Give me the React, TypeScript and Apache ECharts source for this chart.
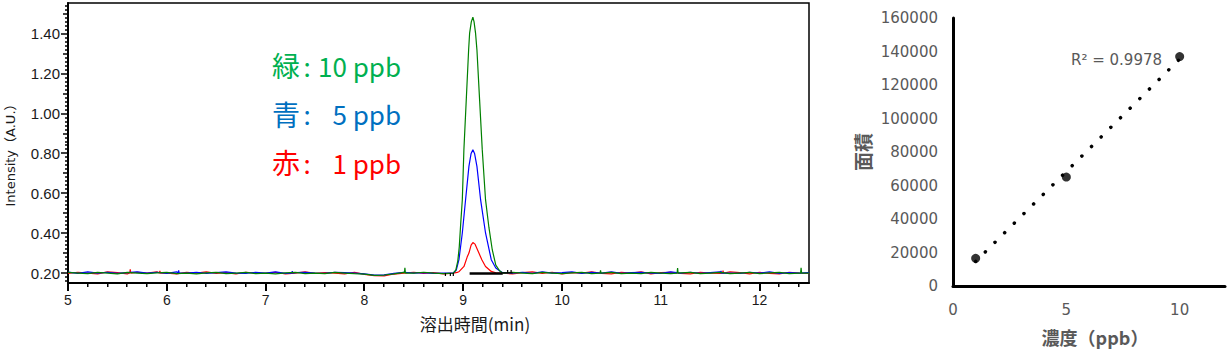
import { useEffect, useRef } from 'react';
import * as echarts from 'echarts';

// ---------- Left chart (chromatogram) ----------
const xTicks = [5, 6, 7, 8, 9, 10, 11, 12];
const yTicks = [0.2, 0.4, 0.6, 0.8, 1.0, 1.2, 1.4];

const baseTimesPre = [
  5.0, 5.1, 5.2, 5.3, 5.4, 5.5, 5.6, 5.7, 5.8, 5.9,
  6.0, 6.1, 6.2, 6.3, 6.4, 6.5, 6.6, 6.7, 6.8, 6.9,
  7.0, 7.1, 7.2, 7.3, 7.4, 7.5, 7.6, 7.7, 7.8, 7.9,
  8.0, 8.1, 8.2, 8.3, 8.4, 8.5, 8.6, 8.7, 8.8,
];
const baseTimesPost = [
  9.5, 9.6, 9.7, 9.8, 9.9, 10.0, 10.1, 10.2, 10.3, 10.4,
  10.5, 10.6, 10.7, 10.8, 10.9, 11.0, 11.1, 11.2, 11.3, 11.4,
  11.5, 11.6, 11.7, 11.8, 11.9, 12.0, 12.1, 12.2, 12.3, 12.4, 12.5,
];

const greenPre = [
  0.203, 0.200, 0.197, 0.203, 0.200, 0.196, 0.203, 0.200, 0.197, 0.201,
  0.203, 0.197, 0.200, 0.196, 0.201, 0.203, 0.197, 0.200, 0.203, 0.197,
  0.200, 0.196, 0.201, 0.203, 0.197, 0.200, 0.197, 0.203, 0.200, 0.197,
  0.195, 0.188, 0.190, 0.196, 0.203, 0.200, 0.204, 0.200, 0.197,
];
const bluePre = [
  0.205, 0.198, 0.206, 0.200, 0.204, 0.198, 0.202, 0.206, 0.200, 0.204,
  0.198, 0.206, 0.200, 0.204, 0.198, 0.202, 0.206, 0.200, 0.198, 0.204,
  0.200, 0.206, 0.198, 0.202, 0.204, 0.200, 0.198, 0.204, 0.202, 0.200,
  0.196, 0.190, 0.191, 0.198, 0.204, 0.200, 0.202, 0.198, 0.200,
];
const redPre = [
  0.198, 0.204, 0.200, 0.196, 0.206, 0.202, 0.196, 0.204, 0.200, 0.206,
  0.200, 0.196, 0.204, 0.200, 0.206, 0.198, 0.202, 0.196, 0.204, 0.200,
  0.198, 0.204, 0.196, 0.200, 0.206, 0.198, 0.202, 0.200, 0.196, 0.204,
  0.193, 0.187, 0.186, 0.195, 0.200, 0.204, 0.198, 0.202, 0.196,
];
const greenPost = [
  0.203, 0.200, 0.197, 0.203, 0.200, 0.197, 0.201, 0.203, 0.197, 0.200,
  0.203, 0.197, 0.200, 0.197, 0.203, 0.200, 0.197, 0.201, 0.203, 0.197,
  0.200, 0.203, 0.197, 0.200, 0.203, 0.197, 0.201, 0.203, 0.197, 0.200, 0.200,
];
const bluePost = [
  0.200, 0.204, 0.198, 0.206, 0.200, 0.202, 0.206, 0.198, 0.204, 0.200,
  0.206, 0.198, 0.202, 0.204, 0.200, 0.198, 0.206, 0.200, 0.204, 0.198,
  0.202, 0.206, 0.200, 0.198, 0.204, 0.200, 0.206, 0.198, 0.202, 0.200, 0.202,
];
const redPost = [
  0.196, 0.202, 0.206, 0.198, 0.204, 0.196, 0.202, 0.200, 0.206, 0.198,
  0.196, 0.204, 0.200, 0.206, 0.196, 0.202, 0.204, 0.198, 0.196, 0.204,
  0.200, 0.198, 0.206, 0.202, 0.196, 0.204, 0.198, 0.196, 0.204, 0.200, 0.198,
];

const greenSpikes = [
  [8.405, 0.2], [8.41, 0.226], [8.415, 0.2],
  [10.385, 0.2], [10.39, 0.214], [10.395, 0.2],
  [11.165, 0.2], [11.17, 0.225], [11.175, 0.2],
  [12.415, 0.2], [12.42, 0.226], [12.425, 0.2],
];
const blueSpikes = [
  [6.115, 0.2], [6.12, 0.214], [6.125, 0.2],
  [7.265, 0.2], [7.27, 0.209], [7.275, 0.2],
  [11.605, 0.2], [11.61, 0.211], [11.615, 0.2],
];
const redSpikes = [
  [5.625, 0.2], [5.63, 0.218], [5.635, 0.2],
  [5.925, 0.2], [5.93, 0.211], [5.935, 0.2],
  [11.625, 0.2], [11.63, 0.212], [11.635, 0.2],
];

const greenPeak = [
  [8.9, 0.2], [8.925, 0.215], [8.945, 0.26], [8.96, 0.33], [8.975, 0.45],
  [8.991, 0.568], [9.007, 0.818], [9.031, 1.069], [9.055, 1.32], [9.065, 1.404],
  [9.082, 1.46], [9.098, 1.484], [9.11, 1.46], [9.125, 1.404], [9.139, 1.32],
  [9.166, 1.069], [9.193, 0.818], [9.226, 0.568], [9.26, 0.43], [9.294, 0.317],
  [9.33, 0.24], [9.37, 0.21], [9.4, 0.2],
];
const bluePeak = [
  [8.9, 0.2], [8.93, 0.215], [8.957, 0.267], [8.991, 0.401], [9.024, 0.568],
  [9.058, 0.735], [9.08, 0.8], [9.098, 0.818], [9.115, 0.8], [9.139, 0.735],
  [9.176, 0.568], [9.226, 0.401], [9.284, 0.267], [9.33, 0.225], [9.368, 0.212],
  [9.4, 0.202],
];
const redPeak = [
  [8.9, 0.2], [8.94, 0.203], [8.96, 0.208], [9.008, 0.233], [9.04, 0.28],
  [9.058, 0.3], [9.08, 0.34], [9.098, 0.353], [9.12, 0.345], [9.159, 0.3],
  [9.19, 0.265], [9.226, 0.233], [9.284, 0.208], [9.33, 0.201], [9.4, 0.199],
];

const integrationMarks = [
  [[9.065, 0.198], [9.4, 0.198]],
  [[9.4, 0.201], [9.5, 0.201]],
  [[8.82, 0.2], [8.82, 0.185]],
  [[8.87, 0.2], [8.87, 0.185]],
  [[8.9, 0.2], [8.9, 0.185]],
  [[9.45, 0.2], [9.45, 0.215]],
  [[9.485, 0.2], [9.485, 0.215]],
];

const legendLines = [
  { name: '緑', amount: '10 ppb', color: '#00b050' },
  { name: '青', amount: '5 ppb', color: '#0070c0' },
  { name: '赤', amount: '1 ppb', color: '#ff0000' },
];

// ---------- Right chart (calibration) ----------
const concentrations = [1, 5, 10];
const areas = [16500, 65000, 137000];
const rightXLabels = [0, 5, 10];
const r2Label = 'R² = 0.9978';

const X_MIN = 5;
const X_MAX = 12.5;
const Y_MIN = 0.15;
const Y_MAX = 1.555;
const LEFT_GRID = { left: 68, right: 419, top: 3, bottom: 66 };
const CHART_W = 1228;
const CHART_H = 349;

function buildSeries(pre: number[], post: number[], spikes: number[][], peak: number[][]) {
  const pts: number[][] = [];
  baseTimesPre.forEach((t, i) => pts.push([t, pre[i]]));
  baseTimesPost.forEach((t, i) => pts.push([t, post[i]]));
  spikes.forEach((p) => pts.push(p));
  peak.forEach((p) => pts.push(p));
  return pts.sort((a, b) => a[0] - b[0]);
}

function linearFit(xs: number[], ys: number[]) {
  const n = xs.length;
  const mx = xs.reduce((a, b) => a + b, 0) / n;
  const my = ys.reduce((a, b) => a + b, 0) / n;
  let sxy = 0;
  let sxx = 0;
  for (let i = 0; i < n; i++) {
    sxy += (xs[i] - mx) * (ys[i] - my);
    sxx += (xs[i] - mx) * (xs[i] - mx);
  }
  const slope = sxy / sxx;
  return { slope, intercept: my - slope * mx };
}

export default function App() {
  const ref = useRef<HTMLDivElement>(null);

  useEffect(() => {
    if (!ref.current) return;
    const chart = echarts.init(ref.current, null, { renderer: 'svg' });

    const fit = linearFit(concentrations, areas);
    const cMin = Math.min(...concentrations);
    const cMax = Math.max(...concentrations);
    const trend = [
      [cMin, fit.intercept + fit.slope * cMin],
      [cMax, fit.intercept + fit.slope * cMax],
    ];

    const leftLabelFont = { fontFamily: 'Liberation Sans', color: '#1a1a1a' };
    const gray = '#595959';

    const chromLine = (name: string, color: string, data: number[][], z: number) => ({
      name,
      type: 'line',
      xAxisIndex: 0,
      yAxisIndex: 0,
      data,
      showSymbol: false,
      symbol: 'none',
      lineStyle: { color, width: 1.2 },
      z,
    });

    const option: any = {
      animation: false,
      backgroundColor: '#ffffff',
      grid: [
        { ...LEFT_GRID, show: true, borderColor: '#000', borderWidth: 1.5, backgroundColor: 'transparent' },
        { left: 953, right: 3, top: 18, bottom: 63, show: false },
      ],
      xAxis: [
        {
          type: 'value', gridIndex: 0, min: X_MIN, max: X_MAX,
          axisLine: { show: true, onZero: false, lineStyle: { color: '#000', width: 2 } },
          axisTick: { show: false },
          axisLabel: { customValues: xTicks, margin: 10, fontSize: 14, ...leftLabelFont },
          splitLine: { show: false },
        },
        {
          type: 'value', gridIndex: 1, min: 0, max: 12,
          axisLine: { show: true, onZero: false, lineStyle: { color: '#000', width: 3 } },
          axisTick: { show: false },
          axisLabel: { customValues: rightXLabels, margin: 16, fontSize: 15, fontFamily: 'DejaVu Sans', color: gray },
          splitLine: { show: false },
        },
      ],
      yAxis: [
        {
          type: 'value', gridIndex: 0, min: Y_MIN, max: Y_MAX,
          axisLine: { show: true, onZero: false, lineStyle: { color: '#000', width: 2 } },
          axisTick: { show: false },
          axisLabel: { customValues: yTicks, margin: 8, fontSize: 15, ...leftLabelFont, formatter: (v: number) => v.toFixed(2) },
          splitLine: { show: false },
        },
        {
          type: 'value', gridIndex: 1, min: 0, max: 160000, interval: 20000,
          axisLine: { show: true, onZero: false, lineStyle: { color: '#000', width: 3 } },
          axisTick: { show: false },
          axisLabel: { margin: 15, fontSize: 15, fontFamily: 'DejaVu Sans', color: gray, formatter: (v: number) => String(v) },
          splitLine: { show: false },
        },
      ],
      series: [
        chromLine('1 ppb', '#ff0000', buildSeries(redPre, redPost, redSpikes, redPeak), 2),
        chromLine('5 ppb', '#0000ff', buildSeries(bluePre, bluePost, blueSpikes, bluePeak), 3),
        chromLine('10 ppb', '#008000', buildSeries(greenPre, greenPost, greenSpikes, greenPeak), 4),
        ...integrationMarks.map((seg, i) => ({
          name: 'mark' + i,
          type: 'line',
          xAxisIndex: 0,
          yAxisIndex: 0,
          data: seg,
          showSymbol: false,
          symbol: 'none',
          lineStyle: { color: '#000', width: i === 0 ? 2.5 : 1.2 },
          z: 5,
        })),
        {
          name: 'trend',
          type: 'line',
          xAxisIndex: 1,
          yAxisIndex: 1,
          data: trend,
          showSymbol: false,
          symbol: 'none',
          lineStyle: { color: '#000', width: 3.5, type: [0.1, 13.5], cap: 'round' },
          z: 3,
        },
        {
          name: 'area',
          type: 'scatter',
          xAxisIndex: 1,
          yAxisIndex: 1,
          data: concentrations.map((c, i) => [c, areas[i]]),
          symbol: 'circle',
          symbolSize: 9,
          itemStyle: { color: '#000' },
          z: 4,
        },
      ],
    };

    chart.setOption(option);

    // ----- axis tick marks: pixel positions from the axes' scales (fallback: linear grid mapping) -----
    const gx0 = LEFT_GRID.left;
    const gx1 = CHART_W - LEFT_GRID.right;
    const gy0 = LEFT_GRID.top;
    const gy1 = CHART_H - LEFT_GRID.bottom;
    const toPx = (p: number[]): number[] => {
      let r: any = null;
      try {
        r = chart.convertToPixel({ gridIndex: 0 } as any, p);
      } catch (e) {
        r = null;
      }
      if (r && isFinite(r[0]) && isFinite(r[1])) return r as number[];
      return [
        gx0 + ((p[0] - X_MIN) / (X_MAX - X_MIN)) * (gx1 - gx0),
        gy1 - ((p[1] - Y_MIN) / (Y_MAX - Y_MIN)) * (gy1 - gy0),
      ];
    };

    const graphics: any[] = [];
    for (let k = 25; k <= 62; k++) {
      const v = Math.round(k * 2) / 10;
      const major = k % 5 === 0;
      const len = major ? 8 : 4;
      const p = toPx([v, Y_MIN]);
      const x = Math.round(p[0]);
      graphics.push({
        type: 'rect',
        silent: true,
        z: 100,
        shape: { x: x - 1, y: gy1, width: major ? 2 : 1.5, height: len },
        style: { fill: '#000' },
      });
    }
    for (let k = 8; k <= 77; k++) {
      const v = Math.round(k * 2) / 100;
      const len = k % 10 === 0 ? 7 : k % 5 === 0 ? 5 : 3;
      const p = toPx([X_MIN, v]);
      const y = Math.round(p[1]);
      graphics.push({
        type: 'rect',
        silent: true,
        z: 100,
        shape: { x: gx0 - len, y: y - 0.75, width: len, height: 1.5 },
        style: { fill: '#000' },
      });
    }

    legendLines.forEach((l, i) => {
      const y = 65 + i * 48.5;
      graphics.push({
        type: 'text',
        x: 272,
        y,
        style: { text: l.name, fill: l.color, font: '28px "Noto Sans CJK JP"', textAlign: 'left', textVerticalAlign: 'middle' },
      });
      graphics.push({
        type: 'text',
        x: 307,
        y,
        style: { text: ':', fill: l.color, font: '26px "Noto Sans CJK JP"', textAlign: 'center', textVerticalAlign: 'middle' },
      });
      graphics.push({
        type: 'text',
        x: 401,
        y,
        style: { text: l.amount, fill: l.color, font: '26px "Noto Sans CJK JP"', textAlign: 'right', textVerticalAlign: 'middle' },
      });
    });
    graphics.push({
      type: 'text',
      x: 10,
      y: 152,
      rotation: Math.PI / 2,
      style: { text: 'Intensity（A.U.）', fill: '#1a1a1a', font: '13px "DejaVu Sans", "Noto Sans CJK JP"', textAlign: 'center', textVerticalAlign: 'middle' },
    });
    graphics.push({
      type: 'text',
      x: 475,
      y: 323,
      style: { text: '溶出時間(min)', fill: '#1a1a1a', font: '17px "Noto Sans CJK JP"', textAlign: 'center', textVerticalAlign: 'middle' },
    });
    graphics.push({
      type: 'text',
      x: 862,
      y: 152,
      rotation: Math.PI / 2,
      style: { text: '面積', fill: gray, font: 'bold 19px "Noto Sans CJK JP"', textAlign: 'center', textVerticalAlign: 'middle' },
    });
    graphics.push({
      type: 'text',
      x: 1095,
      y: 337,
      style: { text: '濃度（ppb）', fill: gray, font: 'bold 18px "Noto Sans CJK JP"', textAlign: 'center', textVerticalAlign: 'middle' },
    });
    graphics.push({
      type: 'text',
      x: 1071,
      y: 60,
      style: { text: r2Label, fill: gray, font: '15px "DejaVu Sans"', textAlign: 'left', textVerticalAlign: 'middle' },
    });

    chart.setOption({ graphic: graphics });
    return () => chart.dispose();
  }, []);

  return <div ref={ref} style={{ position: 'fixed', left: 0, top: 0, width: CHART_W, height: CHART_H }} />;
}
